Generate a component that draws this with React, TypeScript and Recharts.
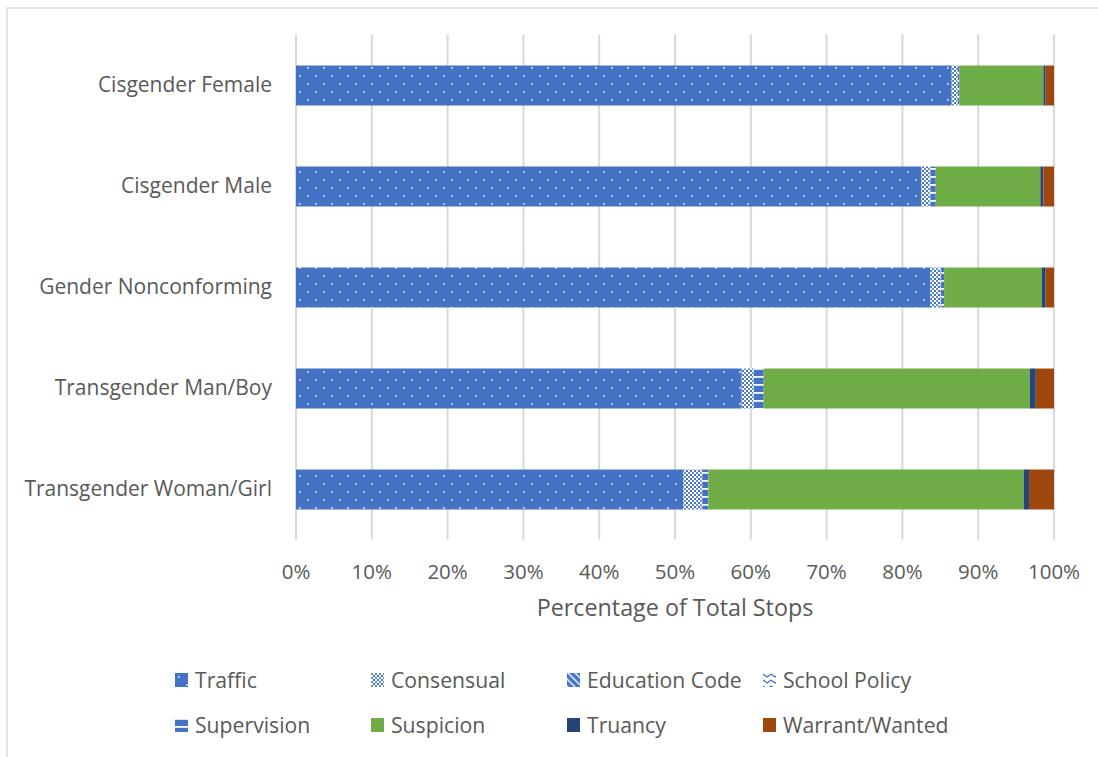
import React from "react";
import { BarChart, Bar, XAxis, YAxis, CartesianGrid, Legend } from "recharts";

const categories = [
  "Cisgender Female",
  "Cisgender Male",
  "Gender Nonconforming",
  "Transgender Man/Boy",
  "Transgender Woman/Girl",
];
const traffic = [86.5, 82.5, 83.7, 58.8, 51.1];
const consensual = [0.7, 1.1, 1.3, 1.5, 2.4];
const educationCode = [0.05, 0.05, 0.05, 0.05, 0.05];
const schoolPolicy = [0.05, 0.05, 0.05, 0.05, 0.05];
const supervision = [0.2, 0.7, 0.4, 1.3, 0.8];
const suspicion = [11.1, 13.8, 12.9, 35.1, 41.6];
const truancy = [0.3, 0.4, 0.5, 0.8, 0.7];
const warrant = [1.1, 1.4, 1.1, 2.4, 3.3];
const xTicks = [0, 10, 20, 30, 40, 50, 60, 70, 80, 90, 100];

const seriesNames = [
  "Traffic",
  "Consensual",
  "Education Code",
  "School Policy",
  "Supervision",
  "Suspicion",
  "Truancy",
  "Warrant/Wanted",
];
const seriesFills = [
  "url(#pTraffic)",
  "url(#pConsensual)",
  "url(#pEducation)",
  "url(#pSchool)",
  "url(#pSupervision)",
  "#70AD47",
  "#264478",
  "#9E480E",
];

const data = categories.map((name, i) => ({
  name,
  s0: traffic[i],
  s1: consensual[i],
  s2: educationCode[i],
  s3: schoolPolicy[i],
  s4: supervision[i],
  s5: suspicion[i],
  s6: truancy[i],
  s7: warrant[i],
}));

const FONT = "'Open Sans', Lato, sans-serif";
const TEXT = "#595959";
const BLUE = "#4472C4";

const Patterns = () => (
  <defs>
    <pattern id="pTraffic" width="16" height="16" patternUnits="userSpaceOnUse">
      <rect width="16" height="16" fill={BLUE} />
      <rect x="3" y="3" width="1.7" height="1.7" fill="#dfe7f5" />
      <rect x="11" y="11" width="1.7" height="1.7" fill="#dfe7f5" />
    </pattern>
    <pattern id="pConsensual" width="4" height="4" patternUnits="userSpaceOnUse">
      <rect width="4" height="4" fill="#ffffff" />
      <rect x="0" y="0" width="2" height="2" fill={BLUE} />
      <rect x="2" y="2" width="2" height="2" fill={BLUE} />
      <rect x="0.5" y="0.5" width="1" height="1" fill="#c9d6ef" />
    </pattern>
    <pattern id="pEducation" width="5" height="5" patternUnits="userSpaceOnUse" patternTransform="rotate(-45)">
      <rect width="5" height="5" fill={BLUE} />
      <rect x="0" y="0" width="1.4" height="5" fill="#ffffff" />
    </pattern>
    <pattern id="pSchool" width="8" height="6" patternUnits="userSpaceOnUse">
      <rect width="8" height="6" fill="#ffffff" />
      <path d="M0,1 L4,4 L8,1" stroke={BLUE} strokeWidth="1.3" fill="none" />
    </pattern>
    <pattern id="pSupervision" width="8" height="8" patternUnits="userSpaceOnUse">
      <rect width="8" height="8" fill={BLUE} />
      <rect x="0" y="0" width="8" height="1.8" fill="#ffffff" />
    </pattern>
  </defs>
);

const renderLegend = () => (
  <div style={{ position: "relative", width: 1098, height: 0 }}>
    {seriesNames.map((n, i) => {
      const col = i % 4;
      const row = Math.floor(i / 4);
      const left = 175 + col * 196;
      const top = 666 + row * 45;
      return (
        <div
          key={n}
          style={{
            position: "absolute",
            left,
            top,
            display: "flex",
            alignItems: "center",
            whiteSpace: "nowrap",
            fontFamily: FONT,
            fontSize: 21.2,
            color: TEXT,
            lineHeight: "28px",
          }}
        >
          <svg width="13" height="14" style={{ marginRight: 7 }}>
            <rect width="13" height="14" fill={seriesFills[i]} />
          </svg>
          <span>{n}</span>
        </div>
      );
    })}
  </div>
);

export default function App() {
  return (
    <div style={{ position: "absolute", left: 0, top: 0, width: 1098, height: 757, background: "#fff", overflow: "hidden" }}>
      <div
        style={{
          position: "absolute",
          left: 6,
          top: 7,
          width: 1200,
          height: 900,
          border: "2px solid #e3e3e3",
          boxSizing: "border-box",
        }}
      />
      <BarChart
        width={1098}
        height={757}
        data={data}
        layout="vertical"
        margin={{ top: 34.5, right: 44, bottom: 0, left: 0 }}
        barSize={40}
      >
        <Patterns />
        <CartesianGrid horizontal={false} vertical stroke="#d9d9d9" strokeWidth={2} />
        <XAxis
          type="number"
          domain={[0, 100]}
          ticks={xTicks}
          tickFormatter={(v: number) => `${v}%`}
          axisLine={false}
          tickLine={false}
          tickSize={0}
          tickMargin={25}
          height={217.5}
          tick={{ fill: TEXT, fontSize: 20.5, fontFamily: FONT }}
          label={{
            value: "Percentage of Total Stops",
            position: "insideTop",
            offset: 60,
            fill: TEXT,
            fontSize: 23.3,
            fontFamily: FONT,
          }}
        />
        <YAxis
          type="category"
          dataKey="name"
          width={296}
          axisLine={false}
          tickLine={false}
          tickSize={0}
          tickMargin={24}
          tick={{ fill: TEXT, fontSize: 21, fontFamily: FONT }}
        />
        <Legend
          content={renderLegend}
          wrapperStyle={{ position: "absolute", left: 0, top: 0, width: 1098, height: 0 }}
        />
        {seriesNames.map((n, i) => (
          <Bar
            key={n}
            dataKey={`s${i}`}
            name={n}
            stackId="a"
            fill={seriesFills[i]}
            isAnimationActive={false}
          />
        ))}
      </BarChart>
    </div>
  );
}
